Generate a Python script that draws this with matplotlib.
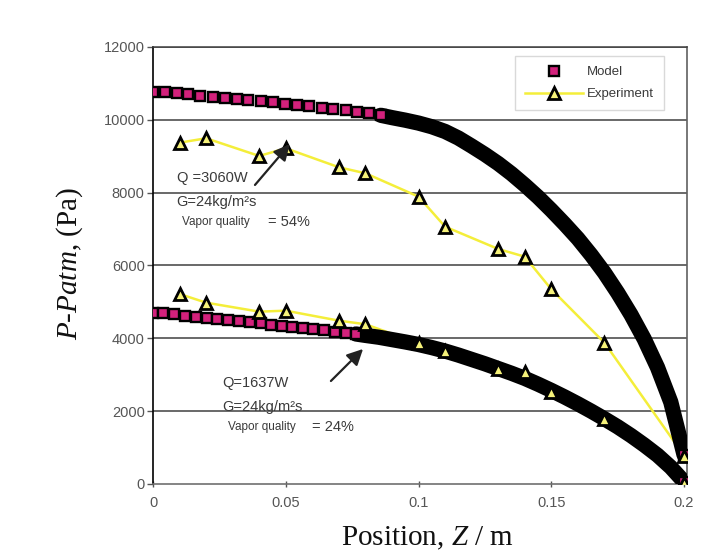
import matplotlib
matplotlib.use("Agg")
import matplotlib.pyplot as plt
from matplotlib.lines import Line2D

# ---------------- data ----------------
# Model, upper case (Q=3060W): discrete squares then dense (band) part
model_hi_x = [0.0000, 0.0046, 0.0090, 0.0133, 0.0177, 0.0225, 0.0271, 0.0315, 0.0359,
              0.0405, 0.0453, 0.0497, 0.0541, 0.0589, 0.0635, 0.0679, 0.0726, 0.0770,
              0.0815, 0.0858]
model_hi_y = [10773, 10756, 10729, 10701, 10663, 10636, 10608, 10572, 10545, 10509,
              10481, 10443, 10407, 10371, 10333, 10297, 10261, 10215, 10179, 10124]
model_hi_band_x = [0.0858, 0.090, 0.095, 0.100, 0.105, 0.110, 0.115, 0.120, 0.125,
                   0.130, 0.135, 0.140, 0.145, 0.150, 0.155, 0.160, 0.165, 0.170,
                   0.175, 0.180, 0.185, 0.190, 0.195, 0.200]
model_hi_band_y = [10124, 10060, 9990, 9910, 9810, 9680, 9500, 9280, 9050,
                   8800, 8520, 8210, 7880, 7520, 7140, 6740, 6290, 5800,
                   5250, 4650, 3980, 3200, 2250, 800]

# Model, lower case (Q=1637W)
model_lo_x = [0.0000, 0.0039, 0.0079, 0.0120, 0.0162, 0.0202, 0.0242, 0.0283, 0.0324,
              0.0365, 0.0405, 0.0444, 0.0484, 0.0524, 0.0565, 0.0603, 0.0643, 0.0685,
              0.0725, 0.0764]
model_lo_y = [4704, 4687, 4660, 4622, 4594, 4567, 4531, 4503, 4468, 4440,
              4413, 4374, 4347, 4311, 4284, 4248, 4221, 4182, 4155, 4119]
model_lo_band_x = [0.0764, 0.080, 0.085, 0.090, 0.095, 0.100, 0.105, 0.110, 0.115,
                   0.120, 0.125, 0.130, 0.135, 0.140, 0.145, 0.150, 0.155, 0.160,
                   0.165, 0.170, 0.175, 0.180, 0.185, 0.190, 0.195, 0.200]
model_lo_band_y = [4119, 4080, 4030, 3965, 3900, 3830, 3745, 3650, 3540,
                   3420, 3300, 3170, 3040, 2900, 2740, 2570, 2390, 2200,
                   2000, 1790, 1570, 1330, 1070, 790, 460, 60]

# Experiment
exp_x = [0.01, 0.02, 0.04, 0.05, 0.07, 0.08, 0.10, 0.11, 0.13, 0.14, 0.15, 0.17, 0.20]
exp_hi_y = [9372, 9493, 9007, 9218, 8697, 8532, 7890, 7066, 6453, 6242, 5347, 3880, 777]
exp_lo_y = [5217, 4979, 4732, 4759, 4485, 4386, 3864, 3661, 3158, 3084, 2535, 1777, 40]

x_ticks = [0, 0.05, 0.1, 0.15, 0.2]
x_tick_labels = ["0", "0.05", "0.1", "0.15", "0.2"]
y_ticks = [0, 2000, 4000, 6000, 8000, 10000, 12000]

# ---------------- style ----------------
MAGENTA = "#d3217c"
YELLOW = "#f4ee3a"
TRI_FILL = "#f6f27a"
TXT = "#3a3a3a"
SANS = ["Liberation Sans", "DejaVu Sans"]

plt.rcParams["mathtext.fontset"] = "custom"
plt.rcParams["mathtext.rm"] = "Liberation Serif"
plt.rcParams["mathtext.it"] = "Liberation Serif:italic"

fig = plt.figure(figsize=(7.13, 5.54), dpi=100)
fig.patch.set_facecolor("white")
ax = fig.add_axes([0.2146, 0.1264, 0.7489, 0.7888])

ax.set_xlim(0, 0.2011)
ax.set_ylim(0, 12000)

# grid lines
for yv in y_ticks[1:]:
    ax.axhline(yv, color="#404040", lw=1.1, zorder=1)

# experiment lines (under the model band)
ax.plot(exp_x, exp_hi_y, color=YELLOW, lw=1.8, zorder=2)
ax.plot(exp_x, exp_lo_y, color=YELLOW, lw=1.8, zorder=2)

# model dense band
band = dict(color="black", lw=11, zorder=3, solid_capstyle="round", solid_joinstyle="round")
ax.plot(model_hi_band_x, model_hi_band_y, **band)
ax.plot(model_lo_band_x, model_lo_band_y, **band)

# model squares
sq = dict(ls="none", marker="s", ms=7.0, mfc=MAGENTA, mec="black", mew=1.7, zorder=4)
ax.plot(model_hi_x, model_hi_y, **sq)
ax.plot(model_lo_x, model_lo_y, **sq)
ax.plot(model_hi_band_x[-1:], model_hi_band_y[-1:], **sq)
ax.plot(model_lo_band_x[-1:], model_lo_band_y[-1:], **sq)

# experiment triangles
tri = dict(ls="none", marker="^", ms=8, mfc=TRI_FILL, mec="black", mew=2.0, zorder=5)
ax.plot(exp_x, exp_hi_y, **tri)
ax.plot(exp_x, exp_lo_y, **tri)

# spines / ticks
ax.spines["left"].set_color("black")
ax.spines["left"].set_linewidth(1.2)
ax.spines["bottom"].set_color("#707070")
ax.spines["bottom"].set_linewidth(1.2)
ax.spines["top"].set_color("#404040")
ax.spines["top"].set_linewidth(1.1)
ax.spines["right"].set_color("#606060")
ax.spines["right"].set_linewidth(1.2)

ax.set_xticks(x_ticks)
ax.set_xticklabels(x_tick_labels)
ax.set_yticks(y_ticks)
ax.set_yticklabels([str(v) for v in y_ticks])
ax.tick_params(axis="y", direction="out", length=4, width=1, color="#555555",
               pad=2, labelsize=10.5, labelcolor="#555555")
ax.tick_params(axis="x", direction="inout", length=5, width=1, color="#555555",
               pad=6, labelsize=10.5, labelcolor="#555555")
for lab in ax.get_xticklabels() + ax.get_yticklabels():
    lab.set_family(SANS)

# axis labels (placed in figure pixels to match the reference)
fig.text(428 / 713, 1 - 545 / 554, r"Position, $Z$ / m", family="Liberation Serif",
         fontsize=21, color="#111111", ha="center", va="baseline")
fig.text(77 / 713, 1 - 263 / 554, r"$P$-$Patm$, (Pa)", family="Liberation Serif",
         fontsize=21, color="#111111", ha="center", va="baseline", rotation=90,
         rotation_mode="anchor")

# annotations
def note(x, y, s, size):
    ax.text(x, y, s, family=SANS, fontsize=size, color=TXT, va="center", ha="left", zorder=6)

note(0.0089, 8403, "Q =3060W", 10.5)
note(0.0089, 7752, "G=24kg/m\u00b2s", 10.5)
note(0.0108, 7203, "Vapor quality", 8.5)
note(0.0434, 7203, "= 54%", 10.5)

note(0.0259, 2773, "Q=1637W", 10.5)
note(0.0259, 2114, "G=24kg/m\u00b2s", 10.5)
note(0.0282, 1573, "Vapor quality", 8.5)
note(0.0598, 1573, "= 24%", 10.5)

arrow = dict(arrowstyle="-|>", color="#222222", lw=1.6, mutation_scale=24,
             shrinkA=0, shrinkB=0)
ax.annotate("", xy=(0.0515, 9330), xytext=(0.0384, 8211), arrowprops=arrow, zorder=6)
ax.annotate("", xy=(0.0791, 3707), xytext=(0.0670, 2828), arrowprops=arrow, zorder=6)

# legend
handles = [
    Line2D([], [], ls="none", marker="s", ms=7.0, mfc=MAGENTA, mec="black", mew=1.7),
    Line2D([], [], color=YELLOW, lw=1.8, marker="^", ms=8, mfc=TRI_FILL, mec="black", mew=2.0),
]
leg = ax.legend(handles, ["Model", "Experiment"], loc="upper left",
                bbox_to_anchor=(0.678, 0.979), borderaxespad=0, frameon=True,
                fancybox=False, edgecolor="#d0d0d0", handlelength=4.4,
                handletextpad=0.3, borderpad=0.75, labelspacing=0.75,
                prop={"family": SANS, "size": 9.5})
leg.get_frame().set_linewidth(1.0)
for t in leg.get_texts():
    t.set_color(TXT)
leg.set_zorder(7)

fig.savefig("out.png", dpi=100)
